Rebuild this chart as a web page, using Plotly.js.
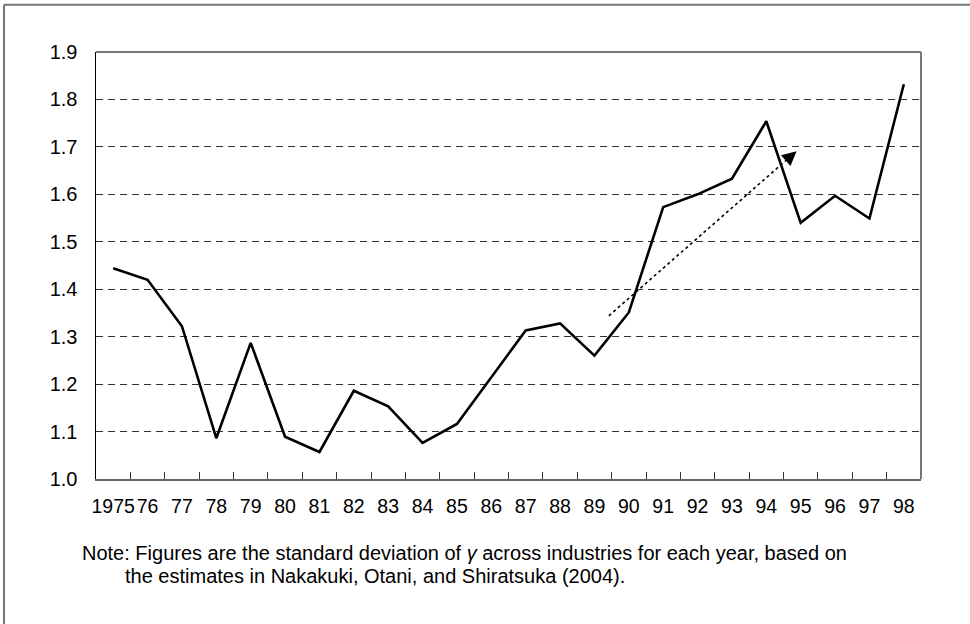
<!DOCTYPE html>
<html>
<head>
<meta charset="utf-8">
<script src="https://cdn.plot.ly/plotly-3.0.1.min.js"></script>
<style>
html,body{margin:0;padding:0;background:#fff;}
#chart{width:970px;height:624px;}
</style>
</head>
<body>
<div id="chart"></div>
<script>
// Data
var years = ['1975','76','77','78','79','80','81','82','83','84','85','86','87','88','89','90','91','92','93','94','95','96','97','98'];
var sdGamma = [1.444,1.420,1.322,1.086,1.287,1.089,1.057,1.186,1.153,1.076,1.116,1.215,1.313,1.328,1.260,1.351,1.573,1.600,1.633,1.754,1.540,1.597,1.549,1.832];
var yTicks = [1.0,1.1,1.2,1.3,1.4,1.5,1.6,1.7,1.8,1.9];
var yTickText = ['1.0','1.1','1.2','1.3','1.4','1.5','1.6','1.7','1.8','1.9'];
// trend arrow (category index, value)
var trendX = [14.42, 19.88];
var trendY = [1.344, 1.691];
var noteLines = [
  'Note: Figures are the standard deviation of <i>γ</i> across industries for each year, based on',
  'the estimates in Nakakuki, Otani, and Shiratsuka (2004).'
];

var FONT = '"Liberation Sans", Arial, sans-serif';

var trace = {
  x: years,
  y: sdGamma,
  type: 'scatter',
  mode: 'lines',
  line: {color: '#000', width: 2.6},
  hoverinfo: 'x+y'
};

// arrow head location: tail close to the tip
var frac = 0.97;
var headTailX = trendX[0] + (trendX[1]-trendX[0])*frac;
var headTailY = trendY[0] + (trendY[1]-trendY[0])*frac;

var layout = {
  width: 970, height: 624,
  margin: {l: 96, r: 49, t: 52, b: 145},
  paper_bgcolor: '#fff',
  plot_bgcolor: '#fff',
  showlegend: false,
  font: {family: FONT, size: 20, color: '#000'},
  xaxis: {
    type: 'category',
    tickson: 'boundaries',
    ticks: 'inside',
    ticklen: 7,
    tickwidth: 1,
    tickcolor: '#333',
    tickangle: 0,
    showgrid: false,
    showline: true,
    linecolor: '#666',
    linewidth: 2,
    zeroline: false,
    tickfont: {family: FONT, size: 19.5, color: '#000'},
    ticklabelstandoff: 9,
    range: [-0.5, 23.5],
    fixedrange: true
  },
  yaxis: {
    range: [1.0, 1.9],
    tickvals: yTicks,
    ticktext: yTickText,
    ticks: '',
    showgrid: true,
    gridcolor: '#333',
    gridwidth: 1,
    griddash: '7px,5px',
    showline: true,
    linecolor: '#000',
    linewidth: 1.5,
    zeroline: false,
    tickfont: {family: FONT, size: 20, color: '#000'},
    ticklabelstandoff: 13,
    fixedrange: true
  },
  shapes: [
    {type: 'line', xref: 'paper', yref: 'paper', x0: 0, x1: 1, y0: 1, y1: 1, line: {color: '#777', width: 2}},
    {type: 'line', xref: 'paper', yref: 'paper', x0: 1, x1: 1, y0: 0, y1: 1, line: {color: '#777', width: 2}},
    {type: 'line', xref: 'paper', yref: 'paper', x0: -0.1115, x1: 1.1, y0: 1.1105, y1: 1.1105, line: {color: '#777', width: 2}},
    {type: 'line', xref: 'paper', yref: 'paper', x0: -0.1115, x1: -0.1115, y0: -0.4, y1: 1.1105, line: {color: '#777', width: 2}},
    {type: 'line', xref: 'x', yref: 'y', x0: trendX[0], y0: trendY[0], x1: headTailX, y1: headTailY,
     line: {color: '#000', width: 1.6, dash: 'dot'}}
  ],
  annotations: [
    {xref: 'x', yref: 'y', axref: 'x', ayref: 'y', x: trendX[1], y: trendY[1], ax: headTailX, ay: headTailY,
     text: '', showarrow: true, arrowhead: 2, arrowsize: 1.8, arrowwidth: 1.6, arrowcolor: '#000'},
    {xref: 'paper', yref: 'paper', x: -0.0194, y: -0.173, xanchor: 'left', yanchor: 'middle',
     text: noteLines[0], showarrow: false, font: {family: FONT, size: 20, color: '#000'}},
    {xref: 'paper', yref: 'paper', x: 0.0327, y: -0.227, xanchor: 'left', yanchor: 'middle',
     text: noteLines[1], showarrow: false, font: {family: FONT, size: 20, color: '#000'}}
  ]
};

Plotly.newPlot('chart', [trace], layout, {displayModeBar: false, staticPlot: true});
</script>
</body>
</html>
